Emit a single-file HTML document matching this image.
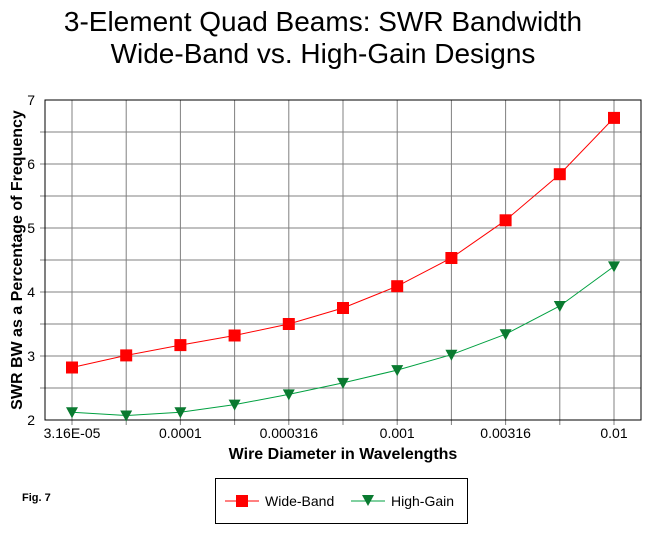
<!DOCTYPE html>
<html><head><style>body{margin:0;background:#fff}</style></head><body>
<svg width="645" height="528" xmlns="http://www.w3.org/2000/svg" font-family="Liberation Sans, Arial, sans-serif">
<rect width="645" height="528" fill="#fff"/>
<text x="323" y="31" font-size="28" text-anchor="middle">3-Element Quad Beams:  SWR Bandwidth</text>
<text x="323" y="63" font-size="28" text-anchor="middle">Wide-Band vs. High-Gain Designs</text>
<g stroke="#808080" stroke-width="1">
<line x1="72" y1="100" x2="72" y2="425"/><line x1="126.2" y1="100" x2="126.2" y2="425"/><line x1="180.4" y1="100" x2="180.4" y2="425"/><line x1="234.6" y1="100" x2="234.6" y2="425"/><line x1="288.8" y1="100" x2="288.8" y2="425"/><line x1="343" y1="100" x2="343" y2="425"/><line x1="397.2" y1="100" x2="397.2" y2="425"/><line x1="451.4" y1="100" x2="451.4" y2="425"/><line x1="505.6" y1="100" x2="505.6" y2="425"/><line x1="559.8" y1="100" x2="559.8" y2="425"/><line x1="614" y1="100" x2="614" y2="425"/>
<line x1="40" y1="132" x2="641" y2="132"/><line x1="40" y1="164" x2="641" y2="164"/><line x1="40" y1="196" x2="641" y2="196"/><line x1="40" y1="228" x2="641" y2="228"/><line x1="40" y1="260" x2="641" y2="260"/><line x1="40" y1="292" x2="641" y2="292"/><line x1="40" y1="324" x2="641" y2="324"/><line x1="40" y1="356" x2="641" y2="356"/><line x1="40" y1="388" x2="641" y2="388"/>
</g>
<rect x="45" y="100" width="596" height="320" fill="none" stroke="#000"/>
<g font-size="14" text-anchor="end">
<text x="35" y="105">7</text><text x="35" y="169">6</text><text x="35" y="233">5</text><text x="35" y="297">4</text><text x="35" y="361">3</text><text x="35" y="425">2</text>
</g>
<g font-size="14" text-anchor="middle">
<text x="72" y="438">3.16E-05</text><text x="180.4" y="438">0.0001</text><text x="288.8" y="438">0.000316</text><text x="397.2" y="438">0.001</text><text x="505.6" y="438">0.00316</text><text x="614" y="438">0.01</text>
</g>
<text x="343" y="459" font-size="16" font-weight="bold" text-anchor="middle">Wire Diameter in Wavelengths</text>
<text transform="translate(22,260) rotate(-90)" font-size="16" font-weight="bold" text-anchor="middle">SWR BW as a Percentage of Frequency</text>
<polyline fill="none" stroke="#f00" points="72,367.5 126.2,355.4 180.4,345.1 234.6,335.5 288.8,324 343,308 397.2,286.2 451.4,258 505.6,220.3 559.8,174.2 614,117.9"/>
<polyline fill="none" stroke="#00a040" points="72,412.3 126.2,415.5 180.4,412.3 234.6,404.6 288.8,394.4 343,382.9 397.2,370.1 451.4,354.7 505.6,334.2 559.8,306 614,266.4"/>
<g fill="#f00">
<rect x="66" y="361.5" width="12" height="12"/><rect x="120.2" y="349.4" width="12" height="12"/><rect x="174.4" y="339.1" width="12" height="12"/><rect x="228.6" y="329.5" width="12" height="12"/><rect x="282.8" y="318" width="12" height="12"/><rect x="337" y="302" width="12" height="12"/><rect x="391.2" y="280.2" width="12" height="12"/><rect x="445.4" y="252" width="12" height="12"/><rect x="499.6" y="214.3" width="12" height="12"/><rect x="553.8" y="168.2" width="12" height="12"/><rect x="608" y="111.9" width="12" height="12"/>
</g>
<g fill="#0a7a30">
<path d="M66,407.3h12l-6,11z"/><path d="M120.2,410.5h12l-6,11z"/><path d="M174.4,407.3h12l-6,11z"/><path d="M228.6,399.6h12l-6,11z"/><path d="M282.8,389.4h12l-6,11z"/><path d="M337,377.9h12l-6,11z"/><path d="M391.2,365.1h12l-6,11z"/><path d="M445.4,349.7h12l-6,11z"/><path d="M499.6,329.2h12l-6,11z"/><path d="M553.8,301h12l-6,11z"/><path d="M608,261.4h12l-6,11z"/>
</g>
<text x="22" y="501" font-size="11" font-weight="bold">Fig. 7</text>
<rect x="215.5" y="478.5" width="252" height="45" fill="#fff" stroke="#000"/>
<line x1="225" y1="501" x2="259" y2="501" stroke="#f00"/><rect x="236" y="495" width="12" height="12" fill="#f00"/>
<text x="265" y="506" font-size="14">Wide-Band</text>
<line x1="351" y1="501" x2="385" y2="501" stroke="#00a040"/><path d="M362,495h12l-6,11z" fill="#0a7a30"/>
<text x="391" y="506" font-size="14">High-Gain</text>
</svg>
</body></html>
